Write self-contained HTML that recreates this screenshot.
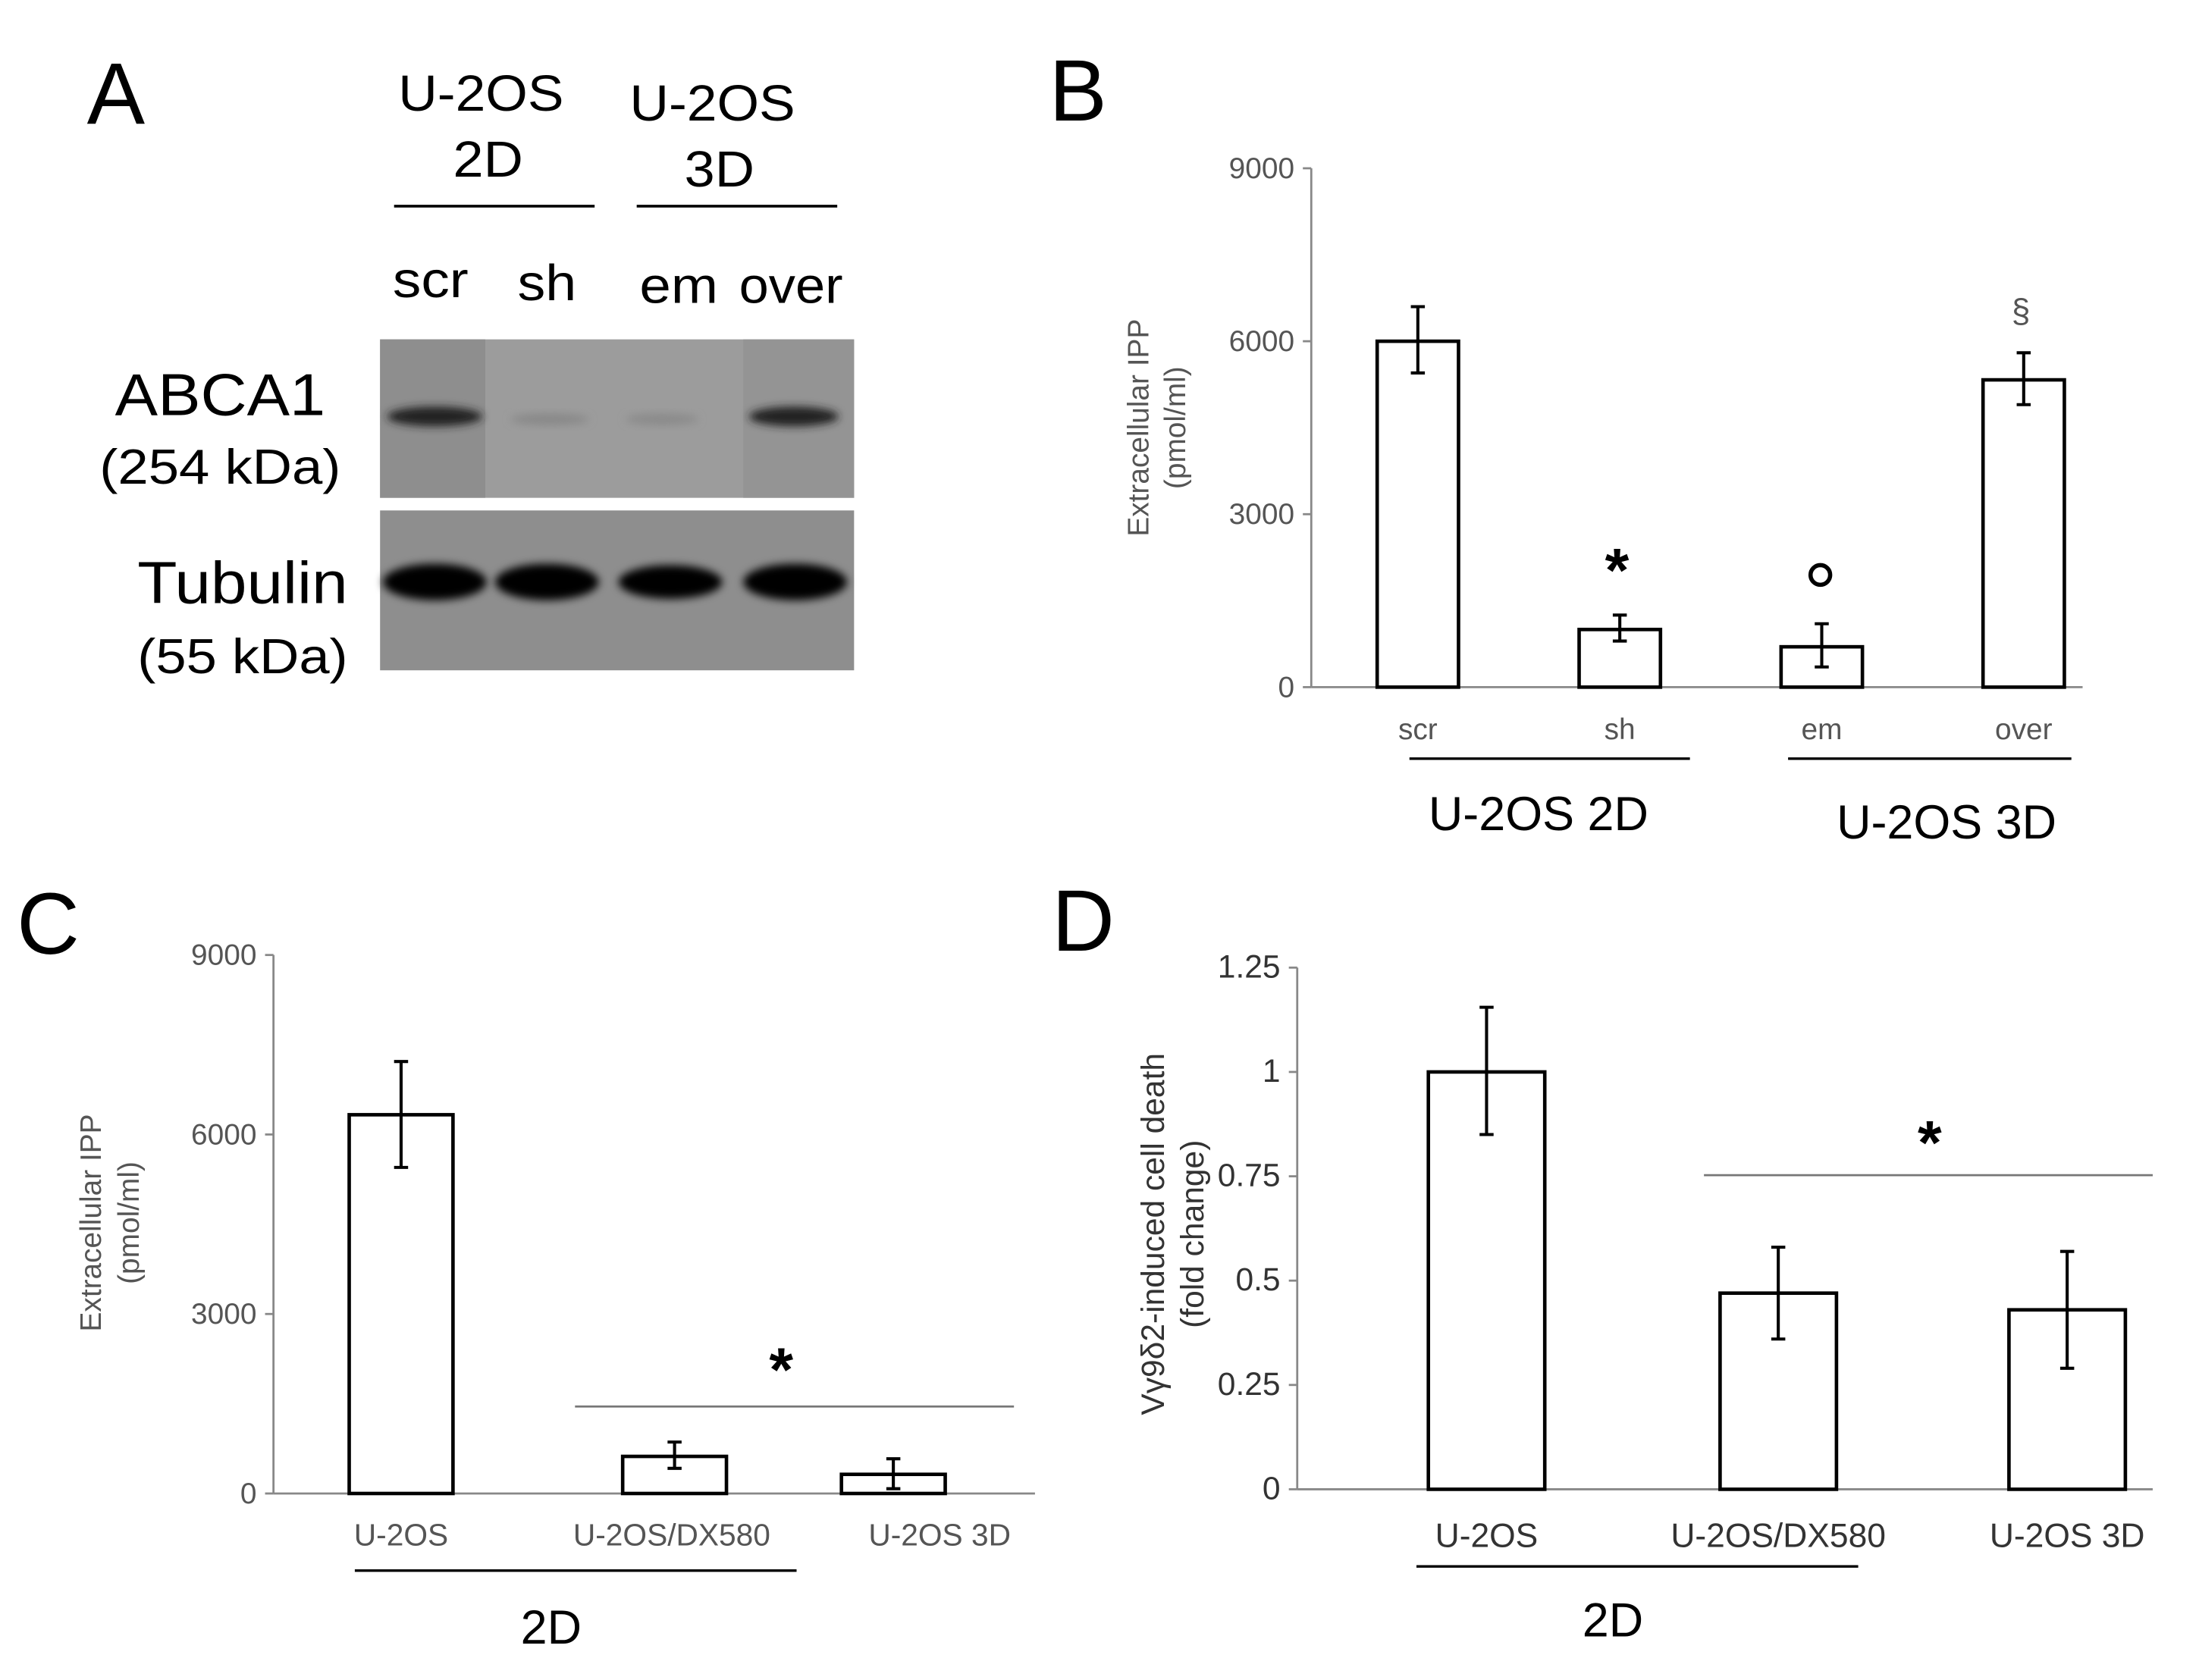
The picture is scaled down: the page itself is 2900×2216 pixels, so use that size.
<!DOCTYPE html>
<html><head><meta charset="utf-8"><style>
html,body{margin:0;padding:0;background:#fff}
svg{display:block}
text{font-family:"Liberation Sans",sans-serif}
</style></head><body>
<svg id="fig" width="2900" height="2216" viewBox="0 0 1568 1198" preserveAspectRatio="none" xmlns="http://www.w3.org/2000/svg">
<defs>
<filter id="blur" x="-20%" y="-50%" width="140%" height="200%"><feGaussianBlur stdDeviation="3"/></filter>
</defs>
<g>
<text x="62" y="88" font-size="62">A</text>
<text x="343" y="79" font-size="36" text-anchor="middle" textLength="118" lengthAdjust="spacingAndGlyphs">U-2OS</text>
<text x="348" y="126" font-size="36" text-anchor="middle" textLength="50" lengthAdjust="spacingAndGlyphs">2D</text>
<text x="508" y="86" font-size="36" text-anchor="middle" textLength="118" lengthAdjust="spacingAndGlyphs">U-2OS</text>
<text x="513" y="133" font-size="36" text-anchor="middle" textLength="50" lengthAdjust="spacingAndGlyphs">3D</text>
<line x1="281" y1="147" x2="424" y2="147" stroke="#000" stroke-width="2"/>
<line x1="454" y1="147" x2="597" y2="147" stroke="#000" stroke-width="2"/>
<text x="307" y="212" font-size="36" text-anchor="middle" textLength="54" lengthAdjust="spacingAndGlyphs">scr</text>
<text x="390" y="214" font-size="36" text-anchor="middle" textLength="42" lengthAdjust="spacingAndGlyphs">sh</text>
<text x="484" y="216" font-size="36" text-anchor="middle" textLength="56" lengthAdjust="spacingAndGlyphs">em</text>
<text x="564" y="216" font-size="36" text-anchor="middle" textLength="74" lengthAdjust="spacingAndGlyphs">over</text>
<text x="157" y="296" font-size="42" text-anchor="middle" textLength="150" lengthAdjust="spacingAndGlyphs">ABCA1</text>
<text x="157" y="345" font-size="35" text-anchor="middle" textLength="172" lengthAdjust="spacingAndGlyphs">(254 kDa)</text>
<text x="173" y="430" font-size="42" text-anchor="middle" textLength="150" lengthAdjust="spacingAndGlyphs">Tubulin</text>
<text x="173" y="480" font-size="35" text-anchor="middle" textLength="150" lengthAdjust="spacingAndGlyphs">(55 kDa)</text>
<rect x="271" y="242" width="338" height="113" fill="#9c9c9c"/>
<rect x="271" y="242" width="75" height="113" fill="#8e8e8e"/>
<rect x="530" y="242" width="79" height="113" fill="#949494"/>
<ellipse cx="310" cy="297" rx="34" ry="7" fill="#222" filter="url(#blur)"/>
<ellipse cx="566" cy="297" rx="32" ry="7" fill="#222" filter="url(#blur)"/>
<ellipse cx="392" cy="299" rx="28" ry="4" fill="#888" filter="url(#blur)"/>
<ellipse cx="472" cy="299" rx="26" ry="4" fill="#8a8a8a" filter="url(#blur)"/>
<rect x="271" y="364" width="338" height="114" fill="#8e8e8e"/>
<ellipse cx="310" cy="415" rx="37" ry="13" fill="#000" filter="url(#blur)"/>
<ellipse cx="390" cy="415" rx="37" ry="13" fill="#000" filter="url(#blur)"/>
<ellipse cx="478" cy="415" rx="37" ry="12" fill="#000" filter="url(#blur)"/>
<ellipse cx="567" cy="415" rx="37" ry="13" fill="#000" filter="url(#blur)"/>
</g>
<text x="748" y="86" font-size="62">B</text>
<text x="12" y="680" font-size="62">C</text>
<text x="750" y="678" font-size="62">D</text>
<g id="panelB"></g>
<g id="panelC"></g>
<g id="panelD"></g>
<g>
<line x1="1005" y1="541" x2="1205" y2="541" stroke="#000" stroke-width="1.8"/>
<line x1="1275" y1="541" x2="1477" y2="541" stroke="#000" stroke-width="1.8"/>
<text x="1097" y="592" font-size="34" text-anchor="middle">U-2OS 2D</text>
<text x="1388" y="598" font-size="34" text-anchor="middle">U-2OS 3D</text>
<text x="1153" y="422" font-size="44" font-weight="bold" text-anchor="middle">*</text>
<circle cx="1298" cy="410" r="7" fill="none" stroke="#000" stroke-width="3"/>
<text x="1441" y="230" font-size="24" text-anchor="middle" fill="#555">§</text>
<line x1="253" y1="1120" x2="568" y2="1120" stroke="#000" stroke-width="1.8"/>
<text x="393" y="1172" font-size="34" text-anchor="middle">2D</text>
<line x1="410" y1="1003" x2="723" y2="1003" stroke="#777" stroke-width="1.5"/>
<text x="557" y="992" font-size="44" font-weight="bold" text-anchor="middle">*</text>
<line x1="1010" y1="1117" x2="1325" y2="1117" stroke="#000" stroke-width="1.8"/>
<text x="1150" y="1167" font-size="34" text-anchor="middle">2D</text>
<line x1="1215" y1="838" x2="1535" y2="838" stroke="#777" stroke-width="1.5"/>
<text x="1376" y="830" font-size="44" font-weight="bold" text-anchor="middle">*</text>
</g>
</svg>
<script>
// Panel B data
const bCategories = ["scr","sh","em","over"];
const bValues = [6000, 1000, 700, 5330];
const bErrLow = [5450, 800, 350, 4900];
const bErrHigh = [6600, 1250, 1100, 5800];
const bTicks = [0, 3000, 6000, 9000];
// Panel C data
const cCategories = ["U-2OS","U-2OS/DX580","U-2OS 3D"];
const cValues = [6330, 620, 320];
const cErrLow = [5450, 420, 80];
const cErrHigh = [7220, 860, 580];
const cTicks = [0, 3000, 6000, 9000];
// Panel D data
const dCategories = ["U-2OS","U-2OS/DX580","U-2OS 3D"];
const dValues = [1.0, 0.47, 0.43];
const dErrLow = [0.85, 0.36, 0.29];
const dErrHigh = [1.155, 0.58, 0.57];
const dTicks = [0, 0.25, 0.5, 0.75, 1, 1.25];

const NS = "http://www.w3.org/2000/svg";
function mk(parent, tag, attrs, txt){
  const e = document.createElementNS(NS, tag);
  for (const k in attrs) e.setAttribute(k, attrs[k]);
  if (txt !== undefined) e.textContent = txt;
  parent.appendChild(e);
  return e;
}
function chart(g, o){
  const y = v => o.y0 - (v - o.ymin) / (o.ymax - o.ymin) * (o.y0 - o.y1);
  const x = i => o.xc[i];
  const ax = mk(g, "line", {x1:o.ax, y1:o.y1, x2:o.ax, y2:o.y0, stroke:"#888", "stroke-width":1.5});
  
  
  const xa = mk(g, "line", {x1:o.ax, y1:o.y0, x2:o.xend, y2:o.y0, stroke:"#888", "stroke-width":1.5});
  
  
  o.ticks.forEach(t => {
    const tl = mk(g, "line", {x1:o.ax-6, y1:y(t), x2:o.ax, y2:y(t), stroke:"#888", "stroke-width":1.5});
    
    
    const tt = mk(g, "text", {x:o.ax-12, y:y(t)+7, "font-size":o.tfs, "text-anchor":"end", fill:o.tcol}, String(t));
    
    
  });
  o.cats.forEach((c, i) => {
    const b = mk(g, "rect", {x:x(i)-o.bw/2, y:y(o.vals[i]), width:o.bw, height:o.y0-y(o.vals[i]), fill:"#fff", stroke:"#000", "stroke-width":2.5});
    
    
    const e = mk(g, "path", {d:`M${x(i)} ${y(o.lo[i])}V${y(o.hi[i])}M${x(i)-5} ${y(o.lo[i])}H${x(i)+5}M${x(i)-5} ${y(o.hi[i])}H${x(i)+5}`, stroke:"#000", "stroke-width":2.2, fill:"none"});
    
    
    const l = mk(g, "text", {x:o.lx[i], y:o.ly, "font-size":o.lfs, "text-anchor":"middle", fill:o.tcol}, c);
    
    
  });
  const t1 = mk(g, "text", {transform:`translate(${o.tx1},${o.ty}) rotate(-90)`, "font-size":o.tfs, "text-anchor":"middle", fill:o.tcol}, o.title1);
  
  
  const t2 = mk(g, "text", {transform:`translate(${o.tx2},${o.ty}) rotate(-90)`, "font-size":o.tfs, "text-anchor":"middle", fill:o.tcol}, o.title2);
  
  
}
const gB = document.getElementById("panelB");
chart(gB, {ax:935, xend:1485, y0:490, y1:120, ymin:0, ymax:9000, ticks:bTicks, cats:bCategories, vals:bValues, lo:bErrLow, hi:bErrHigh, xc:[1011,1155,1299,1443], lx:[1011,1155,1299,1443], bw:58, ly:527, lfs:21, tfs:21, tcol:"#555", tx1:819, tx2:845, ty:305, title1:"Extracellular IPP", title2:"(pmol/ml)"});
const gC = document.getElementById("panelC");
chart(gC, {ax:195, xend:738, y0:1065, y1:681, ymin:0, ymax:9000, ticks:cTicks, cats:cCategories, vals:cValues, lo:cErrLow, hi:cErrHigh, xc:[286,481,637], lx:[286,479,670], bw:74, ly:1102, lfs:22, tfs:21, tcol:"#555", tx1:72, tx2:99, ty:872, title1:"Extracellular IPP", title2:"(pmol/ml)"});
const gD = document.getElementById("panelD");
chart(gD, {ax:925, xend:1535, y0:1062, y1:690, ymin:0, ymax:1.25, ticks:dTicks, cats:dCategories, vals:dValues, lo:dErrLow, hi:dErrHigh, xc:[1060,1268,1474], lx:[1060,1268,1474], bw:83, ly:1103, lfs:24, tfs:23, tcol:"#333", tx1:830, tx2:858, ty:880, title1:"Vγ9δ2-induced cell death", title2:"(fold change)"});
</script>
</body></html>
